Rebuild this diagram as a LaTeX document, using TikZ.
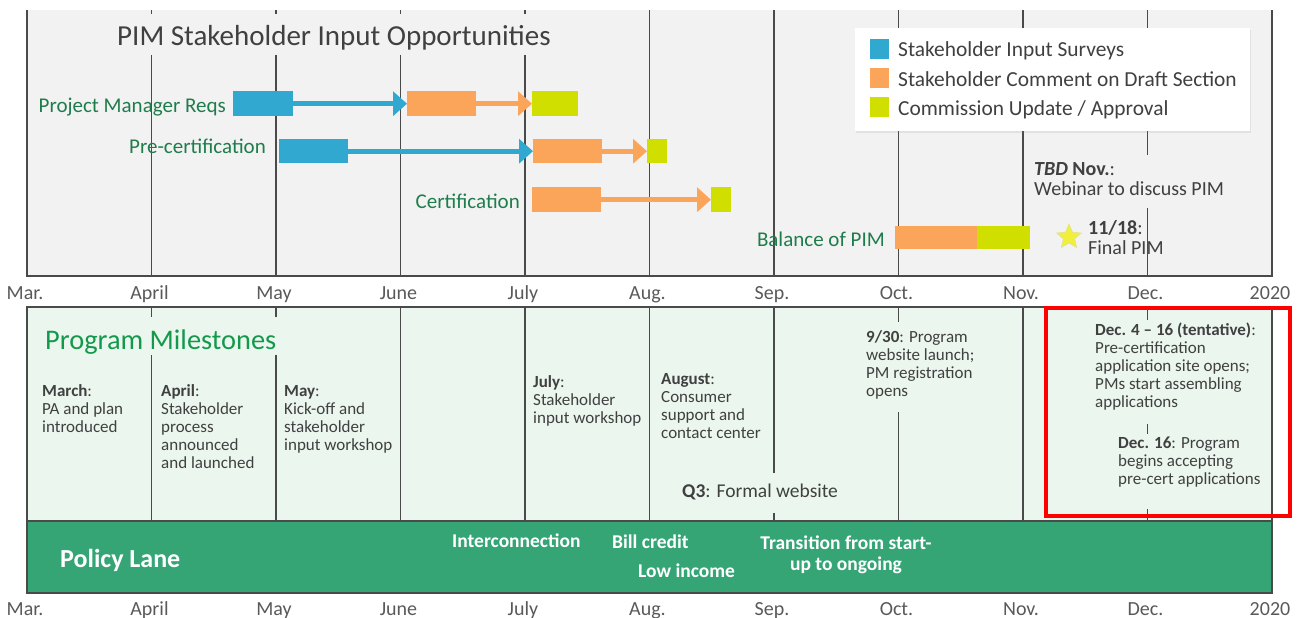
\documentclass[tikz,border=0pt]{standalone}
\usepackage{fontspec}
\setmainfont{Carlito}
\usetikzlibrary{arrows.meta,shapes.geometric,shadows}
\newcommand{\myfs}[2]{\fontsize{#1}{#2}\selectfont}
\definecolor{topbg}{HTML}{F2F2F2}
\definecolor{botbg}{HTML}{EBF6EE}
\definecolor{polgreen}{HTML}{35A576}
\definecolor{cblue}{HTML}{31A8D0}
\definecolor{corange}{HTML}{FBA55A}
\definecolor{cyg}{HTML}{D1DF00}
\definecolor{lgreen}{HTML}{1F7D4C}
\definecolor{pmgreen}{HTML}{14994C}
\definecolor{tgray}{HTML}{404040}
\definecolor{mgray}{HTML}{595959}
\definecolor{gline}{HTML}{4A4A4A}
\definecolor{staryellow}{HTML}{F0F03C}
\tikzset{
  lab/.style={inner sep=0pt, font=\myfs{21}{21}, text=lgreen},
  body/.style={inner sep=0pt, align=left, anchor=north west, font=\myfs{17}{18}, text=tgray},
  upper/.style={inner sep=0pt, align=left, anchor=north west, font=\myfs{20}{20}, text=tgray},
  mon/.style={inner sep=0pt, anchor=base, font=\myfs{20}{20}, text=mgray},
  bar/.style={inner sep=0pt, anchor=north west},
  arr/.style={line width=5pt, -{Triangle[length=14pt,width=24pt]}},
  gridl/.style={draw=gline, line width=1.3pt},
  pol/.style={inner sep=0pt, text=white, font=\bfseries\myfs{19.5}{21}},
  legsq/.style={inner sep=0pt, minimum width=19pt, minimum height=20pt, anchor=north west},
  legtxt/.style={inner sep=0pt, anchor=base west, font=\myfs{21.4}{21}, text=tgray},
}
\begin{document}
\begin{tikzpicture}[x=1pt,y=-1pt]
\useasboundingbox (0,0) rectangle (1299,618);
% panels
\fill[topbg] (27,10) rectangle (1272,276);
\fill[botbg] (27,307) rectangle (1272,521);
\fill[polgreen] (27,521) rectangle (1272,593);
% grid lines (top)
\foreach \x/\a/\b in {151.5/10/14, 151.5/55/276, 276/10/14, 276/55/276, 400.5/10/14, 400.5/55/276,
  525/10/14, 525/55/276, 649.5/10/276, 774/10/276, 898.5/10/276, 1023/10/276,
  1147.5/10/155, 1147.5/208/276}
  \draw[gridl] (\x,\a) -- (\x,\b);
\draw[gridl] (27,10) -- (27,276) -- (1272,276) -- (1272,10);
% grid lines (bottom)
\foreach \x/\a/\b in {151.5/307/317, 151.5/355/521, 276/307/317, 276/355/521, 400.5/307/521,
  525/307/521, 649.5/307/521, 774/307/473, 774/513/521, 898.5/307/322, 898.5/412/521,
  1023/307/521, 1147.5/307/320, 1147.5/424/434, 1147.5/509/521}
  \draw[gridl] (\x,\a) -- (\x,\b);
\draw[gridl] (27,307) rectangle (1272,593);
\draw[gridl] (27,521) -- (1272,521);
% title
\node[inner sep=0pt, anchor=base west, font=\myfs{29}{29}, text=tgray] (title) at (117,46) {PIM Stakeholder Input Opportunities};
% legend
\node[fill=white, drop shadow={shadow xshift=1pt, shadow yshift=-2pt, opacity=0.15}, inner sep=0pt, minimum width=395pt, minimum height=103pt, anchor=north west] (legend) at (855,28) {};
\node[legsq, fill=cblue] (lsq1) at (870,39) {};
\node[legsq, fill=corange] (lsq2) at (870,68) {};
\node[legsq, fill=cyg] (lsq3) at (870,97) {};
\node[legtxt] (lt1) at (898,57) {Stakeholder Input Surveys};
\node[legtxt] (lt2) at (898,86) {Stakeholder Comment on Draft Section};
\node[legtxt] (lt3) at (898,115) {Commission Update / Approval};
% row 1
\node[lab, anchor=base east] (l1) at (226,112) {Project Manager Reqs};
\node[bar, fill=cblue, minimum width=60pt, minimum height=25pt] (pmS) at (233,91) {};
\node[bar, fill=corange, minimum width=69pt, minimum height=25pt] (pmC) at (407,91) {};
\node[bar, fill=cyg, minimum width=46pt, minimum height=25pt] (pmA) at (532,91) {};
\draw[arr, cblue] (pmS.east) -- (pmC.west);
\draw[arr, corange] (pmC.east) -- (pmA.west);
% row 2
\node[lab, anchor=base east] (l2) at (266,153) {Pre-certification};
\node[bar, fill=cblue, minimum width=69pt, minimum height=24pt] (pcS) at (279,139) {};
\node[bar, fill=corange, minimum width=69pt, minimum height=24pt] (pcC) at (533,139) {};
\node[bar, fill=cyg, minimum width=20pt, minimum height=24pt] (pcA) at (647,139) {};
\draw[arr, cblue] (pcS.east) -- (pcC.west);
\draw[arr, corange] (pcC.east) -- (pcA.west);
% row 3
\node[lab, anchor=base east] (l3) at (520,208) {Certification};
\node[bar, fill=corange, minimum width=69pt, minimum height=25pt] (ceC) at (532,187) {};
\node[bar, fill=cyg, minimum width=20pt, minimum height=25pt] (ceA) at (711,187) {};
\draw[arr, corange] (ceC.east) -- (ceA.west);
% row 4
\node[lab, anchor=base east] (l4) at (885,246) {Balance of PIM};
\node[bar, fill=corange, minimum width=82pt, minimum height=23pt] (bpC) at (895,226) {};
\node[bar, fill=cyg, minimum width=53pt, minimum height=23pt] (bpA) at (977,226) {};
% upper notes
\node[upper] (tbd) at (1034,162.5) {{\bfseries\itshape TBD} {\bfseries Nov.}:\\Webinar to discuss PIM};
\node[star, star points=5, star point ratio=2.2, fill=staryellow, draw=yellow!60!gray!60, line width=0.6pt, minimum size=26pt, inner sep=0pt] (star) at (1069,237) {};
\node[upper] (final) at (1088,220.5) {{\bfseries 11/18}:\\Final PIM};
% month labels
\foreach \m [count=\i from 0] in {Mar.,April,May,June,July,Aug.,Sep.,Oct.,Nov.,Dec.,2020}{
  \node[mon] (tm\i) at ({27+124.5*\i-2},299) {\m};
  \node[mon] (bm\i) at ({27+124.5*\i-2},615) {\m};
}
% program milestones
\node[inner sep=0pt, anchor=base west, font=\myfs{28.4}{28}, text=pmgreen] (pm) at (45,349) {Program Milestones};
\node[body] (mMar) at (42,384.8) {\textbf{March}:\\PA and plan\\introduced};
\node[body] (mApr) at (161,384.8) {\textbf{April}:\\Stakeholder\\process\\announced\\and launched};
\node[body] (mMay) at (284,384.8) {\textbf{May}:\\Kick-off and\\stakeholder\\input workshop};
\node[body] (mJul) at (533,375.8) {\textbf{July}:\\Stakeholder\\input workshop};
\node[body] (mAug) at (661,372.8) {\textbf{August}:\\Consumer\\support and\\contact center};
\node[inner sep=0pt, anchor=base west, font=\myfs{19.5}{20}, text=tgray] (mQ3) at (682,497) {\textbf{Q3}: Formal website};
\node[body] (mSep) at (866,330.8) {\textbf{9/30}: Program\\website launch;\\PM registration\\opens};
\node[body] (mDec1) at (1095,322.8) {\textbf{Dec. 4 – 16 (tentative)}:\\Pre-certification\\application site opens;\\PMs start assembling\\applications};
\node[body] (mDec2) at (1118,436.8) {\textbf{Dec. 16}: Program\\begins accepting\\pre-cert applications};
% policy lane
\node[inner sep=0pt, anchor=base west, text=white, font=\bfseries\myfs{26}{26}] (pl) at (60,567) {Policy Lane};
\node[pol, anchor=base west] (pInt) at (452,547) {Interconnection};
\node[pol, anchor=base west] (pBill) at (612,548) {Bill credit};
\node[pol, anchor=base west] (pLow) at (638,577) {Low income};
\node[pol, align=center, anchor=north] (pTr) at (846,536) {Transition from start-\\up to ongoing};
% highlight
\draw[red, line width=3.5pt] (1046,308) rectangle (1290,516);
\end{tikzpicture}
\end{document}
